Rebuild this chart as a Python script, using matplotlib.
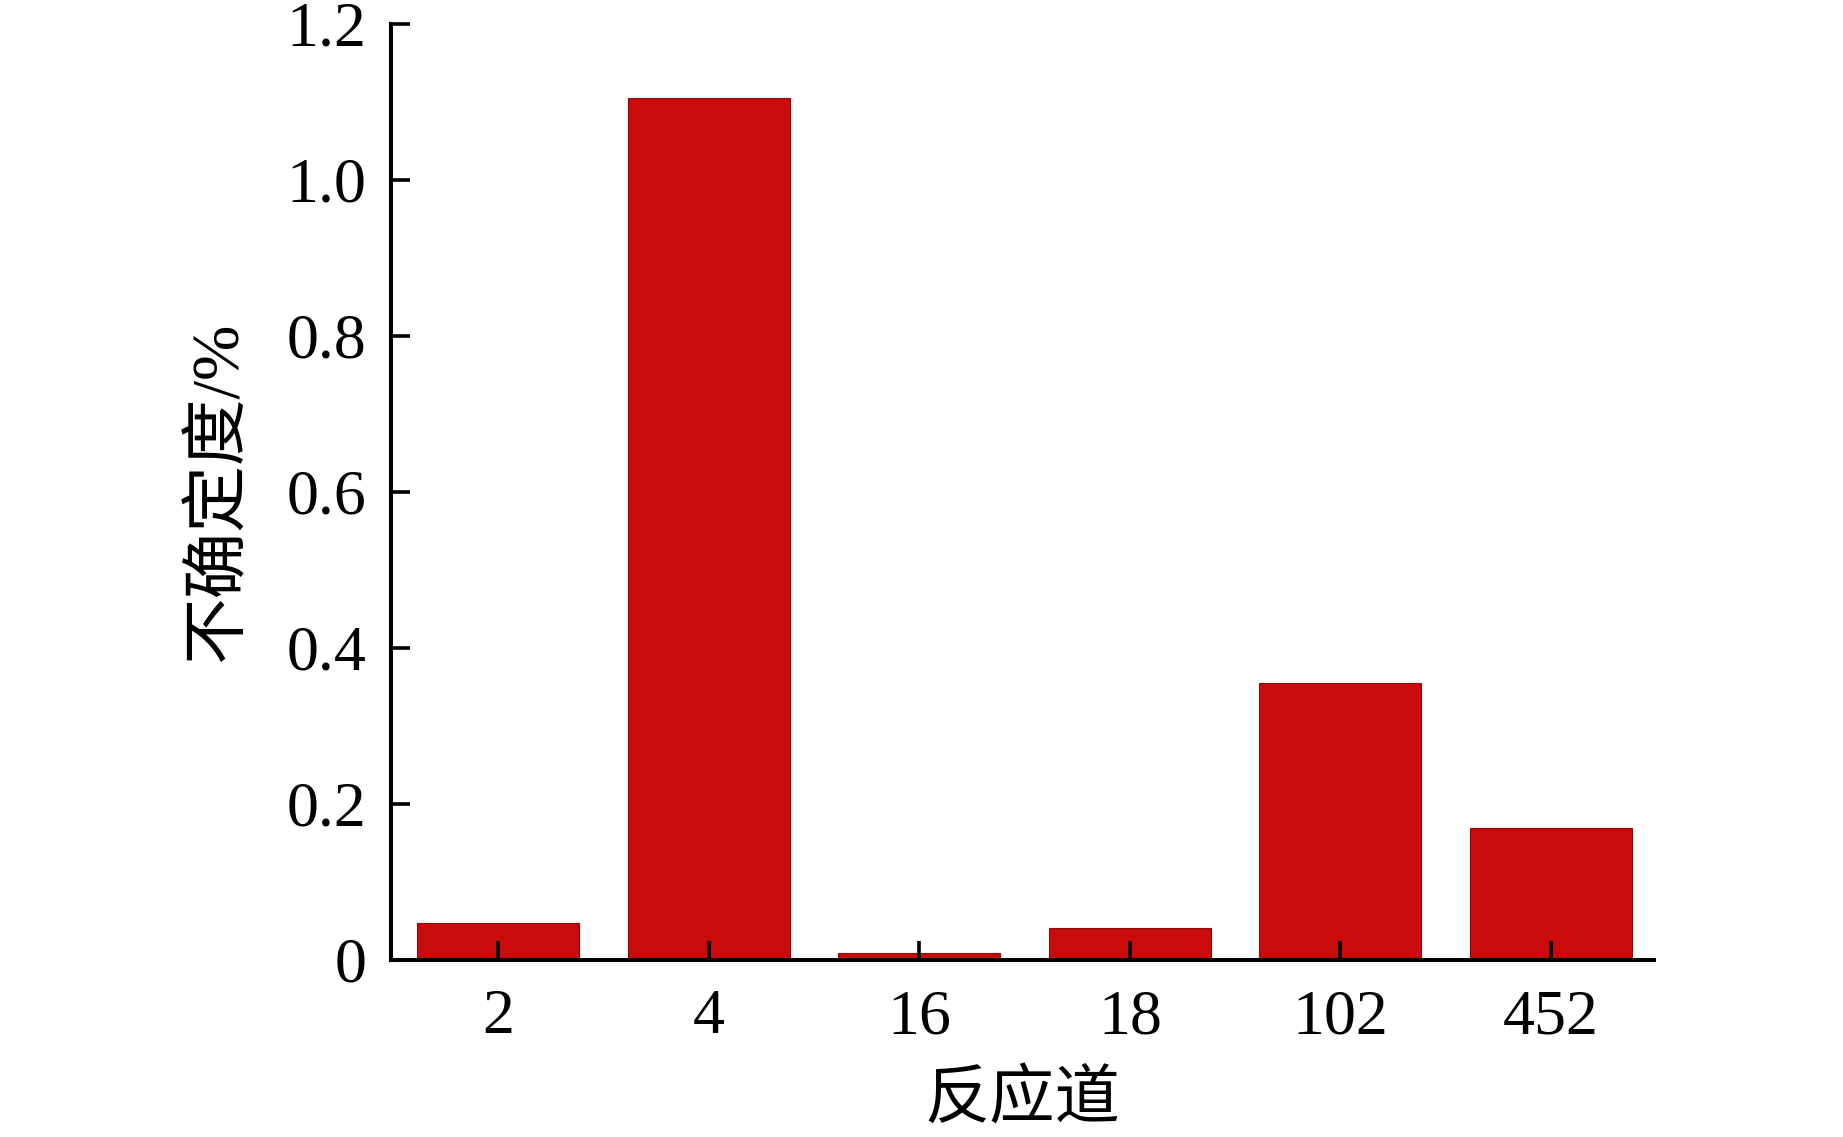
import numpy as np
import matplotlib
matplotlib.use("Agg")
import matplotlib.pyplot as plt
from matplotlib.ticker import FuncFormatter

plt.rcParams['font.family'] = ['Liberation Serif', 'Noto Sans CJK SC']

# 数据
channels = ['2', '4', '16', '18', '102', '452']
uncertainty = [0.047, 1.104, 0.009, 0.041, 0.355, 0.169]
yticks = [0, 0.2, 0.4, 0.6, 0.8, 1.0, 1.2]

fig = plt.figure(figsize=(18.43, 11.37), dpi=100)
ax = fig.add_axes([0.2122, 0.1557, 0.6853, 0.8236])

x = np.arange(len(channels))
ax.bar(x, uncertainty, width=0.77, color='#C90B0B', edgecolor='#8B0A0A', linewidth=0.8)

ax.set_xlim(-0.51, 5.49)
ax.set_ylim(0, 1.2)
ax.set_xticks(x)
ax.set_xticklabels(channels)
ax.set_yticks(yticks)
ax.yaxis.set_major_formatter(FuncFormatter(lambda v, p: '0' if v == 0 else '%.1f' % v))

# 只保留左边和下边的坐标轴
for s in ['top', 'right']:
    ax.spines[s].set_visible(False)
for s in ['left', 'bottom']:
    ax.spines[s].set_linewidth(2.9)

ax.tick_params(axis='both', direction='in', length=14, width=2.6, labelsize=46)
ax.tick_params(axis='x', pad=21)
ax.tick_params(axis='y', pad=18)

ax.set_xlabel('反应道', fontsize=47)
ax.set_ylabel('不确定度/%', fontsize=48)
ax.xaxis.set_label_coords(0.5, -0.119)
ax.yaxis.set_label_coords(-0.111, 0.5)

fig.savefig('out.png', dpi=100)
